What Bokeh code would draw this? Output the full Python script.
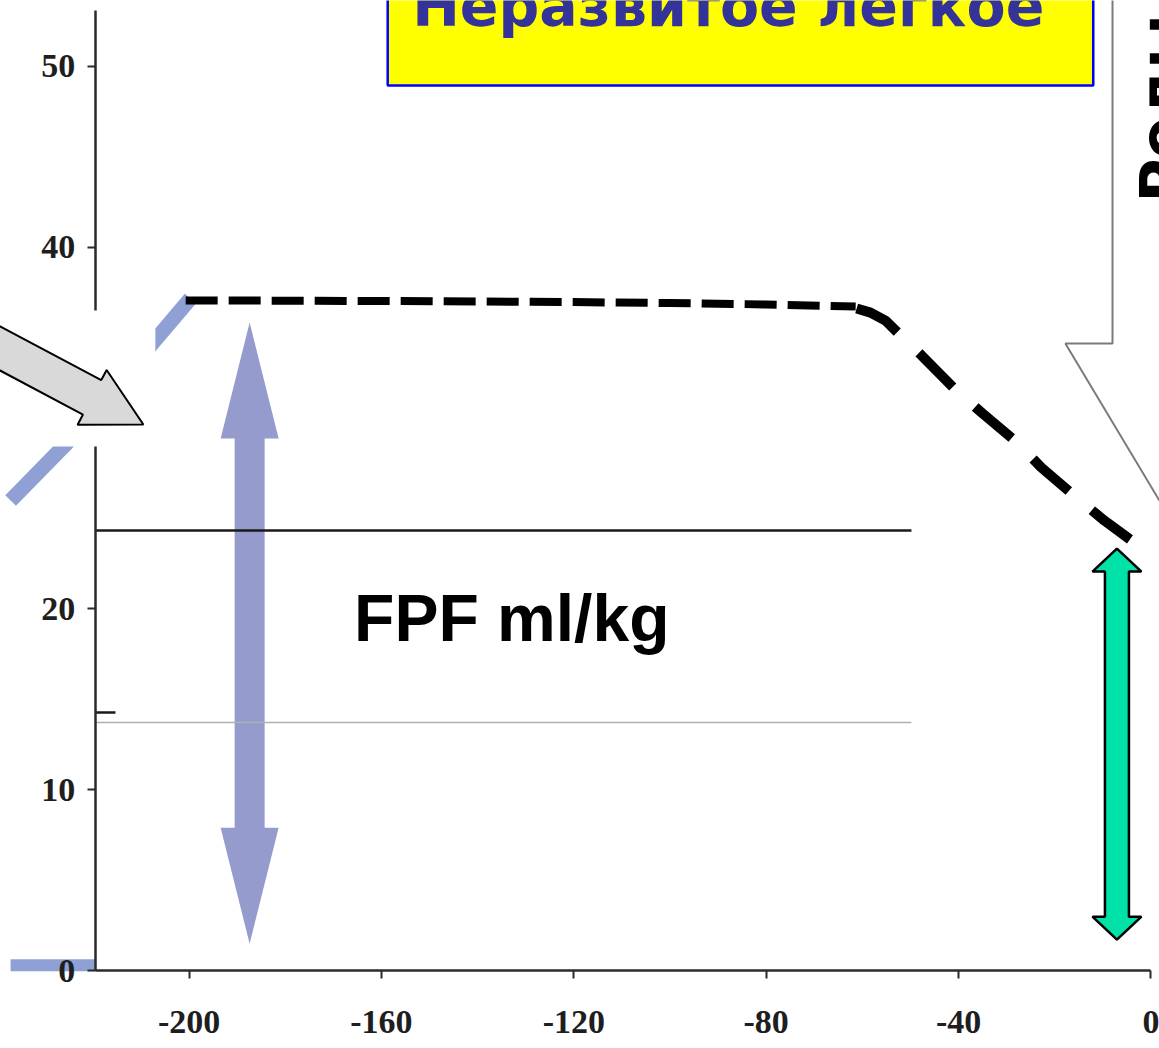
import math
from bokeh.plotting import figure
from bokeh.models import Range1d, LinearAxis, FixedTicker, BoxAnnotation
from bokeh.core.properties import value
from bokeh.embed import file_html
from bokeh.resources import INLINE

# ---------------- data ----------------
x_ticks = [-200, -160, -120, -80, -40, 0]
x_tick_labels = ["-200", "-160", "-120", "-80", "-40", "0"]
y_ticks = [0, 10, 20, 30, 40, 50]
y_tick_labels = ["0", "10", "20", "30", "40", "50"]

# dashed curve (FPF, ml/kg) - plateau part
plateau_x = [-200.7, -180, -160, -140, -120, -100, -80, -61.4]
plateau_y = [37.06, 37.05, 37.03, 37.0, 36.97, 36.92, 36.84, 36.73]
# dashed curve - decline part
decline_x = [-61.2, -58.3, -55.2, -52.5, -47.7, -40.9, -35.0, -27.8, -22.8, -15.5, -9.7, -3.2]
decline_y = [36.62, 36.39, 35.95, 35.24, 34.02, 32.19, 30.81, 29.20, 27.82, 26.16, 24.89, 23.62]

# light-blue curve (mostly hidden)
blue_x = [-237.1, -226.1, -216.3, -208.0, -199.7]
blue_y = [26.0, 28.98, 31.80, 34.57, 37.17]
blue_base_x = [-237.1, -219.4]
blue_base_y = [0.3, 0.3]

# horizontal reference lines
ref_top_y = 24.34
ref_bottom_y = 13.72
ref_x = [-219.5, -49.8]

title_text = "Неразвитое легкое"
fpf_text = "FPF ml/kg"
callout_text = "Роды"

# ---------------- frame ----------------
X0, X1 = -239.2, 1.77
Y0, Y1 = -4.31, 53.65
W, H = 1159, 1048
SX = W / (X1 - X0)
SY = H / (Y1 - Y0)


def to_px(x, y):
    return ((x - X0) * SX, (Y1 - y) * SY)


def to_data(px, py):
    return (X0 + px / SX, Y1 - py / SY)


def fat_arrow(start, end, shaft_w, head_w, head_len, double=False):
    sx, sy = to_px(*start)
    ex, ey = to_px(*end)
    L = math.hypot(ex - sx, ey - sy)
    ux, uy = (ex - sx) / L, (ey - sy) / L
    nx, ny = -uy, ux
    pts = []
    b2 = (ex - ux * head_len, ey - uy * head_len)
    if double:
        b1 = (sx + ux * head_len, sy + uy * head_len)
        pts += [(sx, sy),
                (b1[0] + nx * head_w / 2, b1[1] + ny * head_w / 2),
                (b1[0] + nx * shaft_w / 2, b1[1] + ny * shaft_w / 2)]
    else:
        pts += [(sx + nx * shaft_w / 2, sy + ny * shaft_w / 2)]
    pts += [(b2[0] + nx * shaft_w / 2, b2[1] + ny * shaft_w / 2),
            (b2[0] + nx * head_w / 2, b2[1] + ny * head_w / 2),
            (ex, ey),
            (b2[0] - nx * head_w / 2, b2[1] - ny * head_w / 2),
            (b2[0] - nx * shaft_w / 2, b2[1] - ny * shaft_w / 2)]
    if double:
        pts += [(b1[0] - nx * shaft_w / 2, b1[1] - ny * shaft_w / 2),
                (b1[0] - nx * head_w / 2, b1[1] - ny * head_w / 2)]
    else:
        pts += [(sx - nx * shaft_w / 2, sy - ny * shaft_w / 2)]
    d = [to_data(a, b) for a, b in pts]
    return [q[0] for q in d], [q[1] for q in d]


p = figure(width=W, height=H, x_range=Range1d(X0, X1), y_range=Range1d(Y0, Y1),
           output_backend="svg", toolbar_location=None, min_border=0,
           x_axis_location=None, y_axis_location=None)
p.outline_line_color = None
p.xgrid.visible = False
p.ygrid.visible = False
p.background_fill_color = "white"

AXIS_X = -219.5
label_font = "Liberation Serif"

xaxis = LinearAxis(fixed_location=0, bounds=(AXIS_X, 0), ticker=FixedTicker(ticks=x_ticks))
yaxis = LinearAxis(fixed_location=AXIS_X, bounds=(0, 53.1), ticker=FixedTicker(ticks=y_ticks))
xaxis.major_label_overrides = {t: s for t, s in zip(x_ticks, x_tick_labels)}
yaxis.major_label_overrides = {t: s for t, s in zip(y_ticks, y_tick_labels)}
for ax in (xaxis, yaxis):
    ax.axis_line_width = 2.5
    ax.axis_line_color = "#2b2b2b"
    ax.major_tick_line_color = "#2b2b2b"
    ax.major_tick_line_width = 2
    ax.major_tick_out = 8
    ax.major_tick_in = 0
    ax.minor_tick_out = 0
    ax.minor_tick_in = 0
    ax.major_label_text_font = label_font
    ax.major_label_text_font_style = "bold"
    ax.major_label_text_font_size = "34px"
    ax.major_label_text_color = "#1e1e1e"
xaxis.major_label_standoff = 32
yaxis.major_label_standoff = 12
p.add_layout(xaxis, "below")
p.add_layout(yaxis, "left")

# light-blue hidden curve pieces
p.line(blue_x, blue_y, line_color="#8fa0d4", line_width=15)
p.line(blue_base_x, blue_base_y, line_color="#8fa0d4", line_width=12)

# blue double arrow (FPF amount)
bx, by = fat_arrow((-187.4, 35.84), (-187.4, 1.49), 30, 58, 116, double=True)
p.patch(bx, by, fill_color="#959bcd", line_color=None)

# reference lines (text box borders)
p.line(ref_x, [ref_top_y, ref_top_y], line_color="#1a1a1a", line_width=2.5)
p.line(ref_x, [ref_bottom_y, ref_bottom_y], line_color="#b0b0b0", line_width=1.5)
p.line([AXIS_X, -215.3], [14.27, 14.27], line_color="#1a1a1a", line_width=2.5)

# dashed FPF curve
p.line(plateau_x, plateau_y, line_color="black", line_width=8, line_dash="32 11")
p.line(decline_x, decline_y, line_color="black", line_width=10, line_dash="48 30")

# green double arrow
gx, gy = fat_arrow((-7.08, 23.34), (-7.08, 1.71), 24, 49, 23, double=True)
p.patch(gx, gy, fill_color="#00e2a8", line_color="black", line_width=2.5)

# FPF label
p.text(x=[-132.9], y=[19.52], text=[fpf_text], text_font=value("Liberation Sans"),
       text_font_style="bold", text_font_size="66px", text_color="black",
       text_align="center", text_baseline="alphabetic")

# yellow title box
p.quad(left=[-158.7], right=[-12.0], bottom=[48.95], top=[60], fill_color="#ffff00",
       line_color="#0000ff", line_width=2.5)
p.text(x=[-87.9], y=[53.32], text=[title_text], text_font=value("DejaVu Sans"),
       text_font_style="bold", text_font_size="57px", text_color="#333399",
       text_align="center", text_baseline="alphabetic")

# right callout
cx = [-8.0, -8.0, -17.8, 6.1, 6.1]
cy = [54.76, 34.68, 34.68, 24.06, 54.76]
p.patch(cx, cy, fill_color="white", line_color="#7a7a7a", line_width=2)
p.text(x=[-4.9], y=[42.48], text=[callout_text], angle=math.pi / 2,
       text_font=value("DejaVu Sans"), text_font_style="bold", text_font_size="60px",
       text_color="black", text_align="left", text_baseline="top")

# white cover box on the left
p.add_layout(BoxAnnotation(left=-260, right=-207.0, bottom=28.98, top=36.5,
                           fill_color="white", fill_alpha=1.0, line_color=None))

# grey pointer arrow
ax_, ay_ = fat_arrow((-260.0, 37.33), (-209.5, 30.2), 39, 62, 58)
p.patch(ax_, ay_, fill_color="#d9d9d9", line_color="black", line_width=2, level="overlay")

open("out.html", "w").write(file_html(p, INLINE))
